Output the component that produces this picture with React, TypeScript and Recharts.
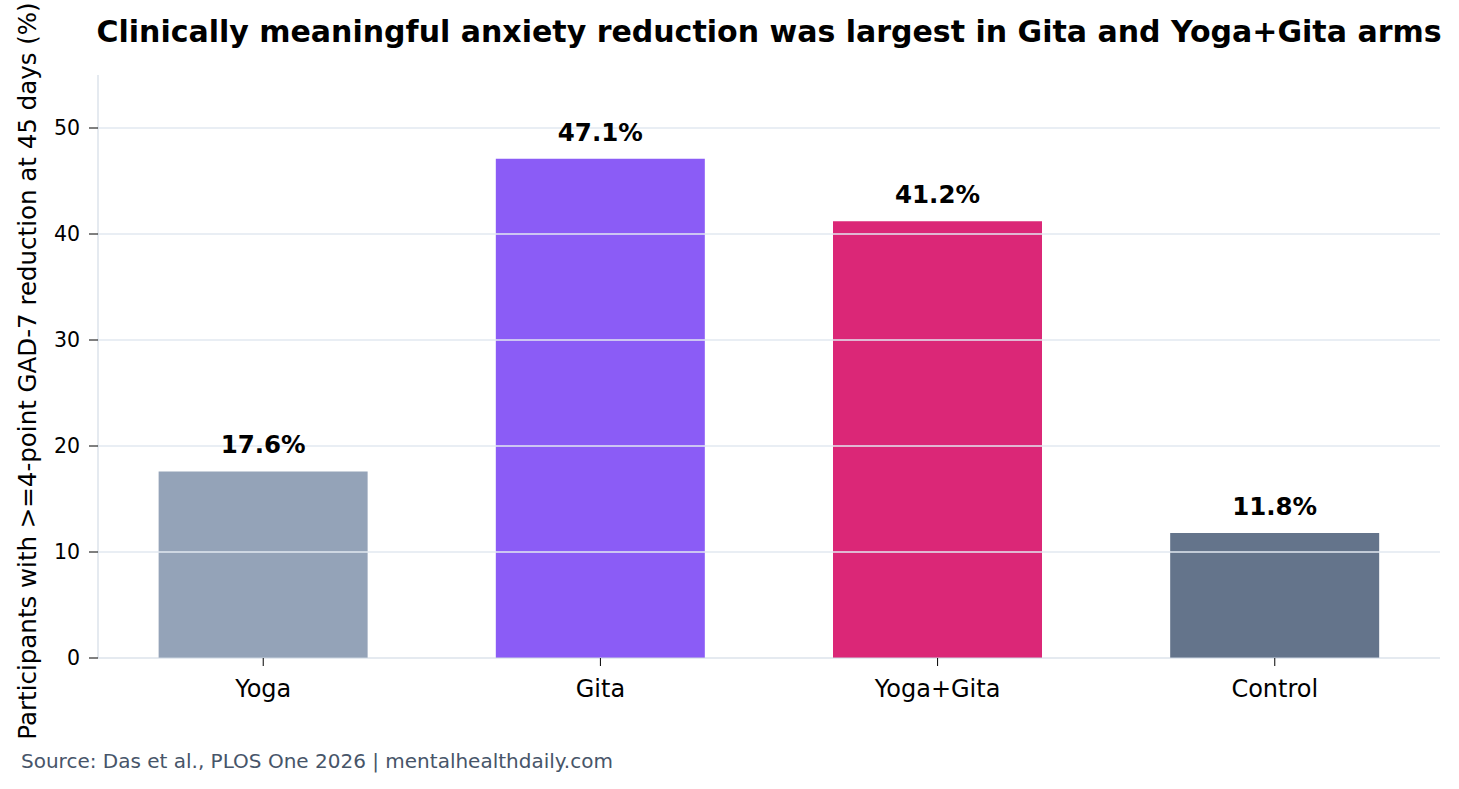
import { BarChart, Bar, XAxis, YAxis, Cell, LabelList, ReferenceLine } from "recharts";

const arms = ["Yoga", "Gita", "Yoga+Gita", "Control"];
const responders = [17.6, 47.1, 41.2, 11.8];
const barColors = ["#94a3b8", "#8b5cf6", "#db2777", "#64748b"];
const yTicks = [0, 10, 20, 30, 40, 50];

// numeric x positions so the axis limits can mimic the original margins
const data = arms.map((arm, i) => ({ pos: i, arm, value: responders[i] }));
const xTicks = arms.map((_, i) => i);

const FONT = "'DejaVu Sans', sans-serif";

export default function App() {
  return (
    <div style={{ position: "absolute", left: 0, top: 0, width: 1459, height: 789, background: "#fff", fontFamily: FONT }}>
      <BarChart
        width={1459}
        height={789}
        data={data}
        margin={{ top: 75, right: 19, bottom: 101, left: 38 }}
      >
        <XAxis
          dataKey="pos"
          type="number"
          domain={[-0.49, 3.49]}
          ticks={xTicks}
          tickFormatter={(i: number) => arms[i] ?? ""}
          stroke="#cbd5e1"
          tickLine={{ stroke: "#000" }}
          tickSize={8}
          tickMargin={14}
          height={30}
          tick={{ fill: "#000", fontSize: 24, fontFamily: FONT }}
        />
        <YAxis
          domain={[0, 55]}
          ticks={yTicks}
          width={60}
          stroke="#cbd5e1"
          tickLine={{ stroke: "#000" }}
          tickSize={9}
          tickMargin={9}
          tick={{ fill: "#000", fontSize: 20.5, fontFamily: FONT }}
        />
        <Bar dataKey="value" barSize={209} isAnimationActive={false}>
          {data.map((d, i) => (
            <Cell key={d.arm} fill={barColors[i]} />
          ))}
          <LabelList
            dataKey="value"
            position="top"
            offset={18}
            formatter={(v: any) => `${Number(v).toFixed(1)}%`}
            style={{ fill: "#000", fontSize: 24.5, fontWeight: "bold", fontFamily: FONT }}
          />
        </Bar>
        {yTicks.slice(1).map((t) => (
          <ReferenceLine key={t} y={t} stroke="#e2e8f0" strokeWidth={1.5} />
        ))}
      </BarChart>
      <svg
        width={1459}
        height={789}
        style={{ position: "absolute", left: 0, top: 0, pointerEvents: "none" }}
      >
        <text x={769} y={42} textAnchor="middle" fontSize={30} fontWeight="bold" fontFamily={FONT} fill="#000">
          Clinically meaningful anxiety reduction was largest in Gita and Yoga+Gita arms
        </text>
        <text
          x={36}
          y={371}
          transform="rotate(-90 36 371)"
          textAnchor="middle"
          fontSize={24.5}
          fontFamily={FONT}
          fill="#000"
        >
          Participants with &gt;=4-point GAD-7 reduction at 45 days (%)
        </text>
        <text x={21} y={768} fontSize={20} fontFamily={FONT} fill="#475569">
          Source: Das et al., PLOS One 2026 | mentalhealthdaily.com
        </text>
      </svg>
    </div>
  );
}
